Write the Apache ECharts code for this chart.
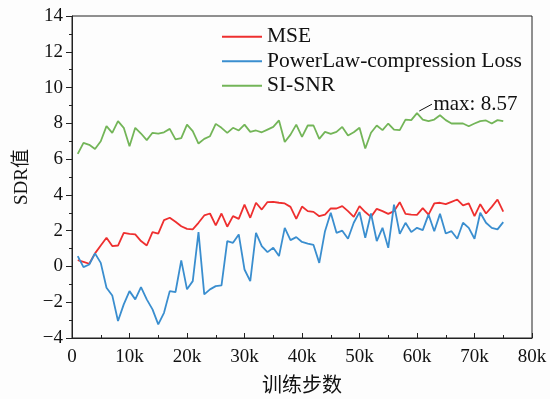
<!DOCTYPE html>
<html><head><meta charset="utf-8">
<script src="https://cdn.jsdelivr.net/npm/echarts@6/dist/echarts.min.js"></script>
<style>html,body{margin:0;padding:0;background:#fdfdfd}#c{width:550px;height:399px}</style>
</head><body><div id="c"></div>
<script>
const steps = [1,2,3,4,5,6,7,8,9,10,11,12,13,14,15,16,17,18,19,20,21,22,23,24,25,26,27,28,29,30,31,32,33,34,35,36,37,38,39,40,41,42,43,44,45,46,47,48,49,50,51,52,53,54,55,56,57,58,59,60,61,62,63,64,65,66,67,68,69,70,71,72,73,74,75].map(k=>k*1000);
const mse = [0.35,0.26,0.15,0.73,1.17,1.6,1.14,1.17,1.88,1.82,1.79,1.42,1.17,1.92,1.84,2.59,2.72,2.5,2.25,2.1,2.07,2.44,2.85,2.96,2.29,2.96,2.22,2.81,2.66,3.46,2.72,3.56,3.18,3.6,3.61,3.56,3.52,3.33,2.66,3.35,3.09,3.05,2.81,2.9,3.24,3.24,3.37,3.09,2.77,3.37,3.04,2.77,3.22,3.09,2.94,3.09,3.59,2.94,2.9,2.88,3.26,2.9,3.52,3.56,3.48,3.61,3.74,3.41,3.52,2.81,3.48,2.96,3.33,3.74,3.07];
const powerLaw = [0.58,-0.04,0.11,0.73,0.2,-1.19,-1.62,-3.05,-2.12,-1.38,-1.84,-1.15,-1.84,-2.4,-3.24,-2.59,-1.38,-1.43,0.34,-1.28,-0.82,1.92,-1.56,-1.28,-1.1,-1.06,1.42,1.32,1.79,-0.17,-0.82,1.88,1.14,0.8,1.04,0.58,2.16,1.47,1.64,1.37,1.28,1.2,0.2,1.97,3.0,1.88,2.0,1.55,2.44,3.04,1.6,2.96,1.42,2.16,1.04,3.46,1.82,2.44,1.92,2.16,2.03,2.9,1.97,2.94,1.84,1.97,1.55,2.44,2.16,1.55,3.0,2.44,2.16,2.07,2.48];
const siSnr = [6.29,6.91,6.8,6.57,7.0,7.84,7.47,8.12,7.75,6.72,7.75,7.43,7.06,7.47,7.43,7.5,7.69,7.1,7.17,7.93,7.56,6.87,7.13,7.28,7.97,7.75,7.47,7.75,7.6,7.93,7.52,7.6,7.5,7.65,7.8,8.16,6.96,7.37,7.93,7.24,7.88,7.88,7.13,7.52,7.41,7.52,7.8,7.32,7.5,7.75,6.59,7.47,7.88,7.62,7.99,7.65,7.62,8.21,8.18,8.57,8.21,8.12,8.21,8.45,8.18,7.99,7.99,7.99,7.84,7.99,8.12,8.16,7.99,8.18,8.12];
const seriesNames = ['MSE','PowerLaw-compression Loss','SI-SNR'];
const colors = ['#ee2f2f','#3a8ecf','#73b558'];
const yTicks = {min:-4, max:14, interval:2};
const xTicks = {min:0, max:80000, interval:10000};

const pairs = arr => steps.map((s,i)=>[s,arr[i]]);
const maxIdx = siSnr.indexOf(Math.max(...siSnr));
const maxPt = [steps[maxIdx], siSnr[maxIdx]];
const font = '"Liberation Serif","Times New Roman","Noto Sans CJK SC",serif';
const dataSets = [mse, powerLaw, siSnr];

const series = dataSets.map((d,i)=>({
  name:seriesNames[i], type:'line', data:pairs(d), symbol:'none',
  itemStyle:{color:colors[i]}, lineStyle:{color:colors[i],width:1.8}
}));
series[2].markLine = {silent:true,symbol:'none',label:{show:false},
  lineStyle:{color:'#111',width:1,type:'solid'},
  data:[[{coord:[maxPt[0]+400,maxPt[1]+0.12]},{coord:[maxPt[0]+2600,maxPt[1]+0.5]}]]};
series[2].markPoint = {silent:true,symbol:'circle',symbolSize:1,itemStyle:{color:'transparent'},
  data:[{coord:[maxPt[0]+2600,maxPt[1]+0.5],value:maxPt[1]}],
  label:{show:true,position:'right',distance:1,formatter:p=>'max: '+p.value.toFixed(2),
    fontFamily:font,fontSize:21,color:'#111'}};

const chart = echarts.init(document.getElementById('c'));
chart.setOption({
  backgroundColor:'#fdfdfd',
  animation:false,
  textStyle:{fontFamily:font},
  grid:{left:72,right:18,top:16,bottom:61,show:true,borderColor:'#222',borderWidth:1,backgroundColor:'transparent',
    containLabel:false,outerBoundsMode:'none'},
  legend:{
    orient:'vertical', left:222, top:26, padding:0, itemWidth:40, itemHeight:2, itemGap:3,
    icon:'rect',
    textStyle:{fontFamily:font,fontSize:21.5,color:'#111'},
    data:seriesNames
  },
  xAxis:{
    type:'value', min:xTicks.min, max:xTicks.max, interval:xTicks.interval,
    name:'训练步数', nameLocation:'middle', nameGap:39,
    nameTextStyle:{fontFamily:font,fontSize:20,color:'#111'},
    axisLine:{onZero:false,lineStyle:{color:'#222',width:1}},
    axisTick:{inside:true,length:5,lineStyle:{color:'#222'}},
    minorTick:{show:true,splitNumber:2,length:3,lineStyle:{color:'#222'}},
    splitLine:{show:false},
    axisLabel:{fontFamily:font,fontSize:19,color:'#111',margin:10,formatter:v=>v===0?'0':(v/1000)+'k'}
  },
  yAxis:{
    type:'value', min:yTicks.min, max:yTicks.max, interval:yTicks.interval,
    name:'SDR值', nameLocation:'middle', nameGap:37, nameRotate:90,
    nameTextStyle:{fontFamily:font,fontSize:19,color:'#111'},
    axisLine:{onZero:false,lineStyle:{color:'#222',width:1}},
    axisTick:{inside:false,length:6,lineStyle:{color:'#222'}},
    minorTick:{show:true,splitNumber:2,length:3,lineStyle:{color:'#222'}},
    splitLine:{show:false},
    axisLabel:{fontFamily:font,fontSize:19,color:'#111',margin:9,formatter:v=>v<0?'\u2212'+(-v):String(v)}
  },
  series:series
});
</script></body></html>
